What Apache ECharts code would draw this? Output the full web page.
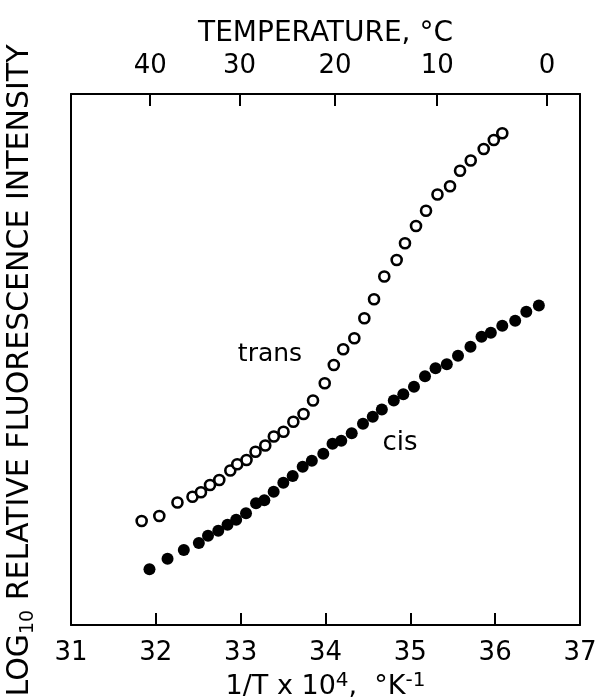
<!DOCTYPE html>
<html>
<head>
<meta charset="utf-8">
<script src="https://cdn.jsdelivr.net/npm/echarts@6/dist/echarts.min.js"></script>
<style>html,body{margin:0;padding:0;background:#fff}#c{width:595px;height:700px}</style>
</head>
<body>
<div id="c"></div>
<script>
// Bottom axis: 1/T x 10^4 (K^-1)
const xMin = 31, xMax = 37, xStep = 1;
// Top axis tick labels: temperature in deg C
const tempTickLabels = [40, 30, 20, 10, 0];
// y axis: arbitrary log10 units (no labels on the original)
const yMin = 0, yMax = 10;

// trans (open circles)
const transX = [31.833,32.041,32.255,32.432,32.532,32.639,32.748,32.878,32.960,33.069,33.175,33.290,33.391,33.505,33.621,33.741,33.853,33.991,34.098,34.209,34.340,34.458,34.572,34.693,34.839,34.937,35.067,35.185,35.320,35.468,35.586,35.712,35.865,35.984,36.084];
const transY = [1.959,2.053,2.307,2.416,2.501,2.637,2.731,2.910,3.026,3.107,3.264,3.380,3.550,3.640,3.829,3.974,4.228,4.552,4.896,5.194,5.401,5.778,6.134,6.563,6.874,7.188,7.514,7.802,8.107,8.262,8.556,8.748,8.964,9.134,9.262];

// cis (filled circles)
const cisX = [31.925,32.138,32.330,32.507,32.615,32.736,32.845,32.947,33.063,33.181,33.279,33.389,33.503,33.613,33.731,33.839,33.974,34.083,34.186,34.309,34.442,34.557,34.664,34.805,34.917,35.043,35.173,35.297,35.430,35.562,35.709,35.839,35.949,36.084,36.236,36.367,36.515];
const cisY = [1.049,1.247,1.412,1.544,1.682,1.776,1.887,1.983,2.105,2.292,2.350,2.510,2.680,2.806,2.981,3.094,3.224,3.412,3.471,3.610,3.791,3.923,4.058,4.228,4.345,4.488,4.684,4.834,4.911,5.072,5.241,5.429,5.505,5.635,5.729,5.900,6.015];

const FONT = 'DejaVu Sans';
const zip = (a, b) => a.map((v, i) => [v, b[i]]);
const tempPos = tempTickLabels.map(t => 1e4 / (t + 273.15));

const chart = echarts.init(document.getElementById('c'), null, {renderer: 'canvas'});
const lineStyle = {color: '#000', width: 2};

chart.setOption({
  backgroundColor: '#fff',
  animation: false,
  grid: {left: 71, right: 15, top: 94, bottom: 75, containLabel: false, outerBoundsMode: 'none'},
  xAxis: [{
    type: 'value', position: 'bottom', min: xMin, max: xMax, interval: xStep,
    axisLine: {show: true, onZero: false, lineStyle},
    axisTick: {show: true, inside: true, length: 12, lineStyle},
    axisLabel: {show: true, margin: 15, color: '#000', fontFamily: FONT, fontSize: 26},
    splitLine: {show: false},
    name: '{n|1/T x 10}{sup|4}{n|,  °K}{sup|-1}',
    nameLocation: 'middle', nameGap: 46,
    nameTextStyle: {
      color: '#000', fontFamily: FONT, fontSize: 27,
      rich: {
        n: {fontFamily: FONT, fontSize: 27, color: '#000', lineHeight: 32},
        sup: {fontFamily: FONT, fontSize: 20, color: '#000', lineHeight: 21, verticalAlign: 'top'}
      }
    }
  }, {
    type: 'value', position: 'top', min: xMin, max: xMax,
    axisLine: {show: true, onZero: false, lineStyle},
    axisTick: {show: true, inside: true, length: 12, lineStyle, customValues: tempPos},
    axisLabel: {show: true, margin: 15, color: '#000', fontFamily: FONT, fontSize: 26,
      customValues: tempPos,
      formatter: v => String(Math.round(1e4 / v - 273.15))},
    splitLine: {show: false},
    name: 'TEMPERATURE, °C',
    nameLocation: 'middle', nameGap: 45,
    nameTextStyle: {color: '#000', fontFamily: FONT, fontSize: 28}
  }],
  yAxis: [{
    type: 'value', position: 'left', min: yMin, max: yMax,
    axisLine: {show: true, onZero: false, lineStyle},
    axisTick: {show: false}, axisLabel: {show: false}, splitLine: {show: false},
    name: '{n|LOG}{sub|10}{n| RELATIVE FLUORESCENCE INTENSITY}',
    nameLocation: 'middle', nameRotate: 90, nameGap: 33,
    nameTextStyle: {
      color: '#000', fontFamily: FONT, fontSize: 30, padding: [0, 22, 0, 0],
      rich: {
        n: {fontFamily: FONT, fontSize: 30, color: '#000', lineHeight: 36},
        sub: {fontFamily: FONT, fontSize: 19, color: '#000', lineHeight: 20, verticalAlign: 'bottom'}
      }
    }
  }, {
    type: 'value', position: 'right', min: yMin, max: yMax,
    axisLine: {show: true, onZero: false, lineStyle},
    axisTick: {show: false}, axisLabel: {show: false}, splitLine: {show: false}
  }],
  series: [{
    name: 'trans', type: 'scatter', xAxisIndex: 0, yAxisIndex: 0,
    data: zip(transX, transY), symbol: 'circle', symbolSize: 10,
    itemStyle: {color: '#fff', borderColor: '#000', borderWidth: 2.6, opacity: 1}
  }, {
    name: 'cis', type: 'scatter', xAxisIndex: 0, yAxisIndex: 0,
    data: zip(cisX, cisY), symbol: 'circle', symbolSize: 12,
    itemStyle: {color: '#000', opacity: 1}
  }],
  graphic: [
    {type: 'text', x: 270, y: 354, style: {text: 'trans', fill: '#000', font: '25px "DejaVu Sans"', align: 'center', verticalAlign: 'middle'}},
    {type: 'text', x: 400, y: 443, style: {text: 'cis', fill: '#000', font: '26px "DejaVu Sans"', align: 'center', verticalAlign: 'middle'}}
  ]
});
</script>
</body>
</html>
